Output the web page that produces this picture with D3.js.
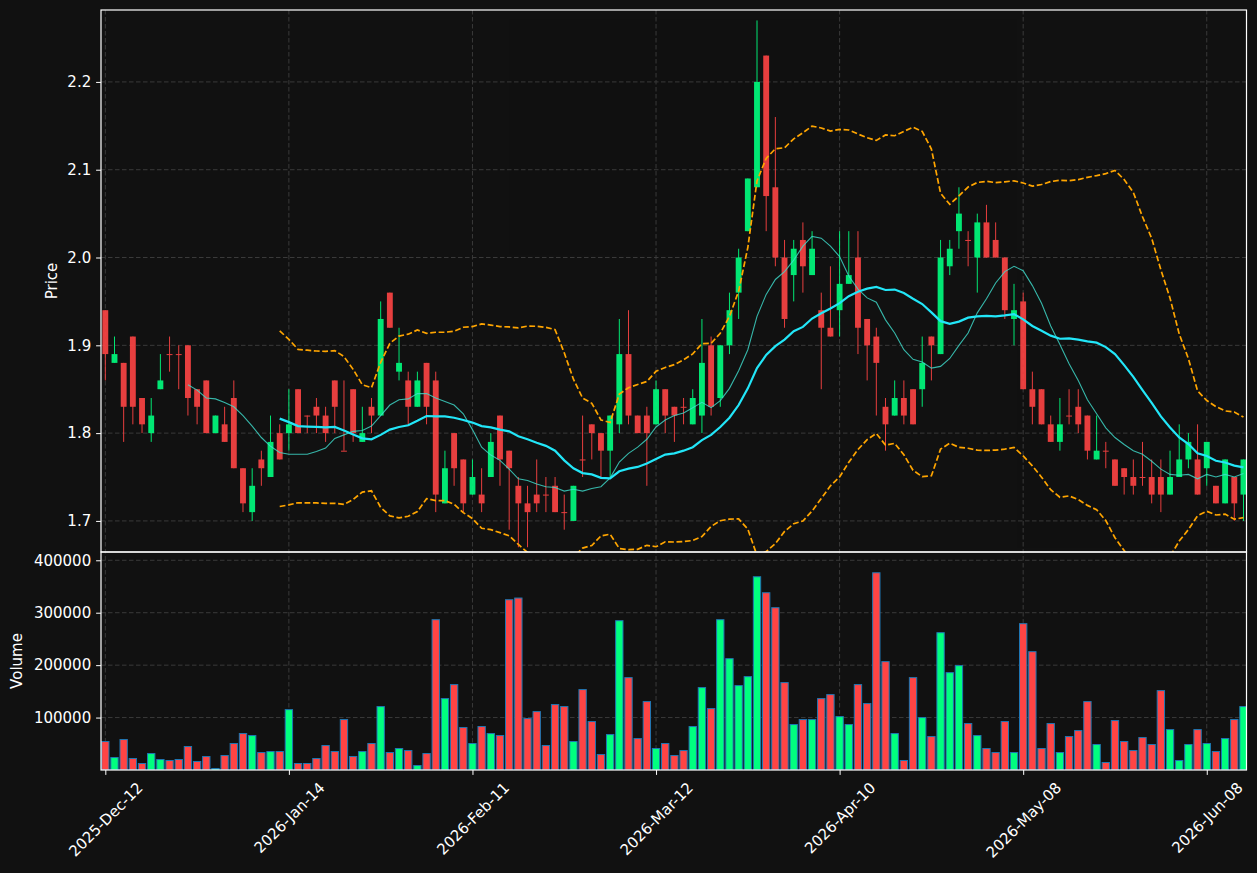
<!DOCTYPE html>
<html lang="en">
<head>
<meta charset="UTF-8">
<title>Candlestick with Bollinger Bands</title>
<style>
  body { margin: 0; background: #111111; }
  svg { display: block; }
  text { font-family: "DejaVu Sans", sans-serif; fill: #ffffff; }
</style>
</head>
<body>
<svg width="1257" height="873"></svg>
<script src="https://d3js.org/d3.v7.min.js"></script>
<script>
// daily OHLC + volume
const opens = [1.94,1.88,1.88,1.91,1.84,1.80,1.85,1.89,1.89,1.90,1.85,1.86,1.80,1.81,1.84,1.76,1.71,1.77,1.75,1.80,
  1.80,1.85,1.82,1.83,1.82,1.86,1.78,1.85,1.79,1.83,1.82,1.96,1.87,1.86,1.83,1.88,1.86,1.72,1.80,1.77,
  1.73,1.73,1.75,1.82,1.78,1.74,1.72,1.73,1.73,1.74,1.71,1.70,1.77,1.81,1.80,1.78,1.81,1.89,1.82,1.82,
  1.81,1.85,1.83,1.83,1.81,1.82,1.90,1.84,1.90,1.96,2.03,2.08,2.23,2.08,2.00,1.98,2.02,1.98,1.94,1.92,
  1.94,1.97,2.00,1.93,1.91,1.83,1.82,1.84,1.85,1.85,1.91,1.89,1.99,2.03,2.02,2.00,2.04,2.02,2.00,1.93,
  1.95,1.85,1.85,1.81,1.79,1.82,1.83,1.82,1.77,1.78,1.77,1.76,1.75,1.75,1.75,1.75,1.73,1.75,1.77,1.77,
  1.76,1.74,1.72,1.75,1.73];
const highs = [1.94,1.91,1.88,1.91,1.84,1.84,1.89,1.91,1.90,1.90,1.85,1.86,1.82,1.83,1.86,1.76,1.76,1.78,1.82,1.81,
  1.85,1.85,1.82,1.84,1.83,1.86,1.86,1.85,1.83,1.84,1.95,1.96,1.92,1.87,1.87,1.88,1.87,1.78,1.80,1.77,
  1.77,1.76,1.80,1.82,1.78,1.75,1.74,1.77,1.75,1.75,1.73,1.74,1.82,1.81,1.80,1.82,1.93,1.94,1.82,1.83,
  1.86,1.85,1.83,1.84,1.85,1.93,1.91,1.90,1.96,2.01,2.09,2.27,2.23,2.16,2.02,2.02,2.04,2.03,1.96,1.99,
  2.03,2.03,2.03,1.93,1.92,1.84,1.86,1.86,1.85,1.91,1.91,2.02,2.02,2.08,2.03,2.05,2.06,2.04,2.00,1.97,
  1.96,1.87,1.85,1.82,1.84,1.85,1.85,1.82,1.82,1.79,1.77,1.76,1.77,1.79,1.77,1.77,1.78,1.81,1.80,1.81,
  1.79,1.74,1.77,1.75,1.77];
const lows = [1.86,1.88,1.79,1.81,1.80,1.79,1.85,1.87,1.85,1.82,1.81,1.80,1.80,1.79,1.76,1.71,1.70,1.74,1.75,1.77,
  1.78,1.80,1.80,1.80,1.79,1.80,1.78,1.79,1.79,1.80,1.82,1.92,1.86,1.81,1.83,1.81,1.71,1.72,1.74,1.71,
  1.73,1.71,1.75,1.74,1.69,1.67,1.67,1.71,1.71,1.71,1.69,1.70,1.75,1.77,1.75,1.75,1.80,1.81,1.80,1.74,
  1.81,1.80,1.79,1.81,1.81,1.80,1.82,1.83,1.89,1.93,2.03,2.08,2.03,1.99,1.92,1.95,1.96,1.98,1.85,1.91,
  1.91,1.97,1.89,1.86,1.82,1.78,1.82,1.81,1.81,1.83,1.86,1.89,1.98,2.01,1.99,1.96,2.00,2.00,1.93,1.90,
  1.85,1.81,1.81,1.79,1.78,1.81,1.80,1.77,1.77,1.76,1.74,1.73,1.73,1.74,1.72,1.71,1.73,1.75,1.76,1.73,
  1.74,1.72,1.72,1.70,1.70];
const closes = [1.89,1.89,1.83,1.83,1.81,1.82,1.86,1.89,1.89,1.84,1.83,1.80,1.82,1.79,1.76,1.72,1.74,1.76,1.79,1.77,
  1.81,1.80,1.82,1.82,1.80,1.83,1.78,1.80,1.80,1.82,1.93,1.92,1.88,1.83,1.86,1.83,1.73,1.76,1.76,1.72,
  1.75,1.72,1.79,1.77,1.76,1.72,1.71,1.72,1.73,1.71,1.71,1.74,1.77,1.80,1.78,1.82,1.89,1.82,1.80,1.80,
  1.85,1.82,1.82,1.83,1.84,1.88,1.83,1.90,1.94,2.00,2.09,2.20,2.07,2.00,1.93,2.01,1.99,2.01,1.92,1.91,
  1.97,1.98,1.92,1.90,1.88,1.81,1.84,1.82,1.81,1.88,1.90,2.00,2.01,2.05,2.02,2.04,2.00,2.00,1.94,1.94,
  1.85,1.83,1.81,1.79,1.81,1.82,1.81,1.78,1.78,1.78,1.74,1.75,1.74,1.75,1.73,1.73,1.75,1.77,1.79,1.73,
  1.79,1.72,1.77,1.72,1.77];
const volumes = [54300,23800,58100,21900,12400,31400,20000,18100,20000,44800,
  16200,25700,2900,27600,50500,69500,65700,33300,35200,35200,
  115200,12400,12400,21900,46700,35200,96200,25700,35200,50500,
  121000,33300,41000,37100,8600,31400,286700,136200,162900,81000,
  50500,82900,69500,65700,324800,328000,98100,111400,46700,124800,
  121000,54300,153400,92400,29500,67600,284800,176200,60000,130500,
  41000,50500,27600,37100,82900,157200,117200,286700,212400,161000,
  178100,368600,338100,309600,166700,86700,96200,96200,136200,143800,
  101900,86700,162900,126700,376200,206700,69500,18100,176200,100000,
  63800,261900,185700,199100,88600,65700,41000,33300,92400,33300,
  279100,225700,41000,88600,33300,63800,75200,130500,48600,14300,
  94300,54300,37100,61900,48600,151400,77100,18100,48600,77100,
  50500,35200,60000,96200,121000];

const tickIndex = [0, 20, 40, 60, 80, 100, 120];
const tickLabels = ["2025-Dec-12", "2026-Jan-14", "2026-Feb-11", "2026-Mar-12", "2026-Apr-10", "2026-May-08", "2026-Jun-08"];
const priceTicks = [1.7, 1.8, 1.9, 2.0, 2.1, 2.2];
const volumeTicks = [100000, 200000, 300000, 400000];

const svg = d3.select("svg");
const left = 101, right = 1246.5, pTop = 10, pBot = 552, vBot = 770;
const upColor = "#00ff7f", downColor = "#ff4444";
const fontSize = 15;

const n = closes.length;
const x = d3.scaleLinear().domain([-0.47, n - 0.67]).range([left, right]);
const y = d3.scaleLinear().domain([1.6646, 2.2819]).range([pBot, pTop]);
const yv = d3.scaleLinear().domain([0, 415800]).range([vBot, pBot]);
const step = x(1) - x(0);

const data = closes.map((c, i) => ({
  i, o: opens[i], h: highs[i], l: lows[i], c, v: volumes[i],
  up: c > opens[i]
}));

// moving averages and bands
function sma(arr, k) {
  return arr.map((_, i) => i < k - 1 ? null : d3.mean(arr.slice(i - k + 1, i + 1)));
}
function band(arr, k, mult) {
  return arr.map((_, i) => {
    if (i < k - 1) return null;
    const s = arr.slice(i - k + 1, i + 1);
    const m = d3.mean(s);
    const sd = Math.sqrt(d3.mean(s, d => (d - m) * (d - m)));
    return m + mult * sd;
  });
}
const mav10 = sma(closes, 10);
const mav20 = sma(closes, 20);
const upper = band(closes, 20, 2);
const lower = band(closes, 20, -2);

svg.append("rect").attr("width", 1257).attr("height", 873).attr("fill", "#111111");

svg.append("clipPath").attr("id", "pclip")
  .append("rect").attr("x", left).attr("y", pTop).attr("width", right - left).attr("height", pBot - pTop);
svg.append("clipPath").attr("id", "vclip")
  .append("rect").attr("x", left).attr("y", pBot).attr("width", right - left).attr("height", vBot - pBot);

// grid
const grid = svg.append("g")
  .attr("stroke", "#3a3a3a").attr("stroke-width", 1).attr("stroke-dasharray", "4.5,2.5");
tickIndex.forEach(t => {
  grid.append("line").attr("x1", x(t)).attr("x2", x(t)).attr("y1", pTop).attr("y2", vBot);
});
priceTicks.forEach(t => {
  grid.append("line").attr("x1", left).attr("x2", right).attr("y1", y(t)).attr("y2", y(t));
});
volumeTicks.forEach(t => {
  grid.append("line").attr("x1", left).attr("x2", right).attr("y1", yv(t)).attr("y2", yv(t));
});

// candles
const candles = svg.append("g").attr("clip-path", "url(#pclip)").attr("opacity", 0.9);
candles.selectAll("line.wick").data(data).join("line")
  .attr("class", "wick")
  .attr("x1", d => x(d.i)).attr("x2", d => x(d.i))
  .attr("y1", d => y(d.h)).attr("y2", d => y(d.l))
  .attr("stroke", d => d.up ? upColor : downColor)
  .attr("stroke-width", 1);
candles.selectAll("rect.body").data(data).join("rect")
  .attr("class", "body")
  .attr("x", d => x(d.i) - step * 0.32)
  .attr("width", step * 0.64)
  .attr("y", d => y(Math.max(d.o, d.c)))
  .attr("height", d => Math.max(1, Math.abs(y(d.o) - y(d.c))))
  .attr("fill", d => d.up ? upColor : downColor);

// lines
const lines = svg.append("g").attr("clip-path", "url(#pclip)").attr("fill", "none");
const lineGen = d3.line().defined(d => d != null).x((d, i) => x(i)).y(d => y(d));
lines.append("path").attr("d", lineGen(mav10))
  .attr("stroke", "#40e0d0").attr("stroke-opacity", 0.8).attr("stroke-width", 1.1);
lines.append("path").attr("d", lineGen(mav20))
  .attr("stroke", "#22e6f8").attr("stroke-width", 2.2);
[upper, lower].forEach(b => {
  lines.append("path").attr("d", lineGen(b))
    .attr("stroke", "#ffa500").attr("stroke-width", 1.7).attr("stroke-dasharray", "5.8,2.6");
});

// volume
svg.append("g").attr("clip-path", "url(#vclip)")
  .selectAll("rect").data(data).join("rect")
  .attr("x", d => x(d.i) - step * 0.4)
  .attr("width", step * 0.8)
  .attr("y", d => yv(d.v))
  .attr("height", d => yv(0) - yv(d.v))
  .attr("fill", d => d.up ? upColor : downColor)
  .attr("stroke", "#1f77b4").attr("stroke-width", 1);

// axes
function styleAxis(g) {
  g.select(".domain").remove();
  g.selectAll(".tick line").attr("stroke", "#ffffff").attr("stroke-width", 1);
  g.selectAll(".tick text").attr("fill", "#ffffff")
    .style("font-size", fontSize + "px").style("font-family", "DejaVu Sans, sans-serif");
}
svg.append("g").attr("transform", `translate(${left},0)`)
  .call(d3.axisLeft(y).tickValues(priceTicks).tickFormat(d3.format(".1f")).tickSize(4.9).tickPadding(4.9))
  .call(styleAxis);
svg.append("g").attr("transform", `translate(${left},0)`)
  .call(d3.axisLeft(yv).tickValues(volumeTicks).tickFormat(d3.format("d")).tickSize(4.9).tickPadding(4.9))
  .call(styleAxis);
const xAxis = svg.append("g").attr("transform", `translate(0,${vBot})`)
  .call(d3.axisBottom(x).tickValues(tickIndex).tickFormat((d, i) => tickLabels[i]).tickSize(4.9).tickPadding(4.9))
  .call(styleAxis);
xAxis.selectAll(".tick text").each(function () {
  const len = this.getComputedTextLength();
  const half = (len + fontSize) * Math.SQRT1_2 / 2;
  d3.select(this)
    .attr("y", 0).attr("dy", "0.35em")
    .attr("text-anchor", "middle")
    .attr("transform", `translate(0,${9.8 + half}) rotate(-45)`);
});

// spines
const spines = svg.append("g").attr("fill", "none").attr("stroke", "#ffffff").attr("stroke-width", 1.2);
spines.append("rect").attr("x", left).attr("y", pTop).attr("width", right - left).attr("height", pBot - pTop);
spines.append("rect").attr("x", left).attr("y", pBot).attr("width", right - left).attr("height", vBot - pBot);

// axis titles
svg.append("text")
  .attr("transform", `translate(52,${(pTop + pBot) / 2}) rotate(-90)`)
  .attr("text-anchor", "middle").attr("dominant-baseline", "central")
  .style("font-size", fontSize + "px")
  .text("Price");
svg.append("text")
  .attr("transform", `translate(17,${(pBot + vBot) / 2}) rotate(-90)`)
  .attr("text-anchor", "middle").attr("dominant-baseline", "central")
  .style("font-size", fontSize + "px")
  .text("Volume");
</script>
</body>
</html>
